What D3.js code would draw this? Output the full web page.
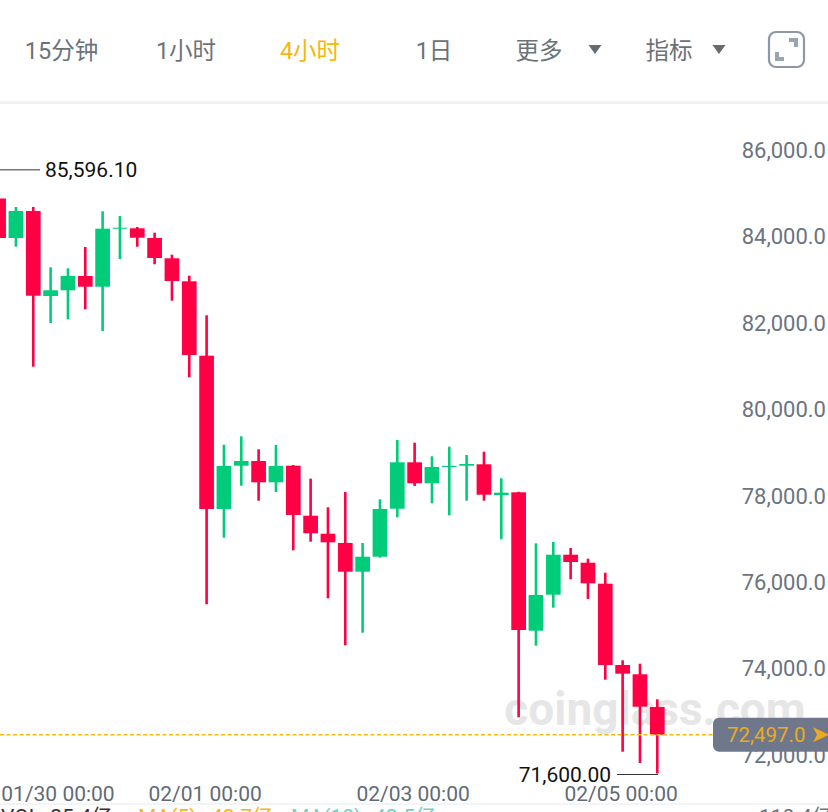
<!DOCTYPE html>
<html><head><meta charset="utf-8">
<script src="https://cdn.jsdelivr.net/npm/d3@7"></script>
<style>
html,body{margin:0;padding:0;background:#fff;overflow:hidden}
svg{display:block}
text{font-family:Roboto,"Noto Sans CJK SC",sans-serif}
</style></head><body>
<svg id="c" width="828" height="812"></svg>
<script>
const opens  = [84910,83995,84620,82653,82785,83116,82868,84220,84220,83995,83525,82993,81271,77722,78725,78833,78340,78725,77567,77150,76935,76271,76618,77729,78803,78317,78702,78725,78757,78046,78109,74905,75739,76664,76479,75993,74111,73896,73139];
const closes = [83995,84620,82660,82785,83116,82868,84211,84234,84002,83532,83000,81287,77722,78718,78833,78340,78718,77583,77160,76951,76271,76618,77722,78803,78317,78694,78718,78764,78053,78100,74921,75732,76664,76495,76002,74111,73910,73146,72497];
const highs  = [85596,84713,84713,83317,83294,83787,84613,84505,84250,84118,83609,83123,82206,79211,79405,79104,79204,78740,78424,77762,78116,76935,77947,79319,79257,78942,79164,78972,79049,78433,78120,76928,76958,76819,76572,76248,74220,74141,73317];
const lows   = [83370,83794,81016,82028,82113,82345,81843,83509,83794,83387,82544,80771,75516,77058,78262,77914,78116,76766,76965,75655,74567,74859,76595,77530,78255,77854,77576,77914,77914,77021,72900,74558,75438,76095,75639,73771,72104,71843,71600];
const yTicks = [86000,84000,82000,80000,78000,76000,74000,72000];
const xLabels = [{i:0,t:"01/30 00:00"},{i:12,t:"02/01 00:00"},{i:24,t:"02/03 00:00"},{i:36,t:"02/05 00:00"}];
const tabs = ["15分钟","1小时","4小时","1日","更多","指标"];
const lastPrice = 72497, maxPrice = 85596.10, minPrice = 71600;

const svg = d3.select("#c");
const x = d3.scaleLinear().domain([0,38]).range([-1.4,657.3]);
const y = d3.scaleLinear().domain([86000,72000]).range([151.4,756.2]);
const bodyW = 14.7, wickW = 2.6;
const RED="#ff0044", GREEN="#00cc7a";
const fmt1 = d3.format(",.1f"), fmt2 = d3.format(",.2f");

// header
const tabX = [61.5,186,310,434,539,669], tabColor = d=>d==="4小时"?"#f5b70c":"#6b7378";
svg.selectAll("text.tab").data(tabs).join("text").attr("class","tab")
  .attr("x",(d,i)=>tabX[i]).attr("y",59).attr("text-anchor","middle")
  .attr("font-size",23.5).attr("fill",tabColor).text(d=>d);
svg.selectAll("path.tri").data([595,719]).join("path").attr("class","tri")
  .attr("d",d=>`M${d-6.5},45 L${d+6.5},45 L${d},54 Z`).attr("fill","#646c72");
svg.append("rect").attr("x",769).attr("y",32).attr("width",35).attr("height",35).attr("rx",7)
  .attr("fill","none").attr("stroke","#8d97a6").attr("stroke-width",2.2);
svg.append("path").attr("d","M789,38 H798 V47 H794 V42 H789 Z M775,52 H779 V57 H784 V61 H775 Z").attr("fill","#9aa3b3");
svg.append("rect").attr("x",0).attr("y",101).attr("width",828).attr("height",3).attr("fill","#f1f2f3");
svg.append("rect").attr("x",0).attr("y",803).attr("width",828).attr("height",2).attr("fill","#f3f4f5");

// watermark
svg.append("text").attr("x",655).attr("y",725).attr("text-anchor","middle")
  .attr("font-size",46).attr("font-weight",700).attr("fill","#e6e6e6").text("coinglass.com");

// y ticks
svg.selectAll("text.yt").data(yTicks).join("text").attr("class","yt")
  .attr("x",826).attr("y",d=>y(d)+6.5).attr("text-anchor","end")
  .attr("font-size",22).attr("fill","#6b7480").text(d=>fmt1(d));
// x labels
svg.selectAll("text.xt").data(xLabels).join("text").attr("class","xt")
  .attr("x",d=>d.i===0?58:x(d.i)-1.5).attr("y",801).attr("text-anchor","middle")
  .attr("font-size",21).attr("fill","#5f6b76").text(d=>d.t);

// candles
const idx = d3.range(opens.length);
const col = i=>closes[i]>=opens[i]?GREEN:RED;
svg.selectAll("rect.wick").data(idx).join("rect").attr("class","wick")
  .attr("x",i=>x(i)-wickW/2).attr("width",wickW)
  .attr("y",i=>y(highs[i])).attr("height",i=>y(lows[i])-y(highs[i])).attr("fill",col);
svg.selectAll("rect.body").data(idx).join("rect").attr("class","body")
  .attr("x",i=>x(i)-bodyW/2).attr("width",bodyW)
  .attr("y",i=>y(Math.max(opens[i],closes[i])))
  .attr("height",i=>Math.max(1,Math.abs(y(opens[i])-y(closes[i])))).attr("fill",col);

// price line
svg.append("line").attr("x1",0).attr("x2",714).attr("y1",y(lastPrice)).attr("y2",y(lastPrice))
  .attr("stroke","#f9b90f").attr("stroke-width",1.6).attr("stroke-dasharray","4 2.5");
svg.append("rect").attr("x",713).attr("y",y(lastPrice)-17).attr("width",125).attr("height",34).attr("rx",6).attr("fill","#6f788b");
svg.append("text").attr("x",805.5).attr("y",y(lastPrice)+7.5).attr("text-anchor","end").attr("font-size",20.5).attr("fill","#eda921").text(fmt1(lastPrice));
svg.append("path").attr("d",(()=>{const c=y(lastPrice);return `M813,${c-7.5} L829,${c} L813,${c+7.5} L817,${c} Z`})()).attr("fill","#eda921");

// hi/lo annotations
svg.append("line").attr("x1",0).attr("x2",40).attr("y1",y(maxPrice)+1).attr("y2",y(maxPrice)+1).attr("stroke","#333").attr("stroke-width",1);
svg.append("text").attr("x",45).attr("y",y(maxPrice)+8.5).attr("font-size",21).attr("fill","#111").text(fmt2(maxPrice));
svg.append("line").attr("x1",617).attr("x2",658).attr("y1",y(minPrice)+1).attr("y2",y(minPrice)+1).attr("stroke","#333").attr("stroke-width",1);
svg.append("text").attr("x",611).attr("y",y(minPrice)+8.5).attr("text-anchor","end").attr("font-size",21).attr("fill","#111").text(fmt2(minPrice));

// volume legend (clipped by window)
const legend=[{x:1,t:"VOL: 25.4亿",c:"#333"},{x:138,t:"MA(5):",c:"#f5b70c"},{x:211,t:"42.7亿",c:"#f5b70c"},{x:291,t:"MA(10):",c:"#6fd3c0"},{x:374,t:"42.5亿",c:"#6fd3c0"},{x:759,t:"110.4亿",c:"#6b7480"}];
svg.selectAll("text.lg").data(legend).join("text").attr("class","lg")
  .attr("x",d=>d.x).attr("y",824).attr("font-size",21).attr("fill",d=>d.c).text(d=>d.t);
</script>
</body></html>
